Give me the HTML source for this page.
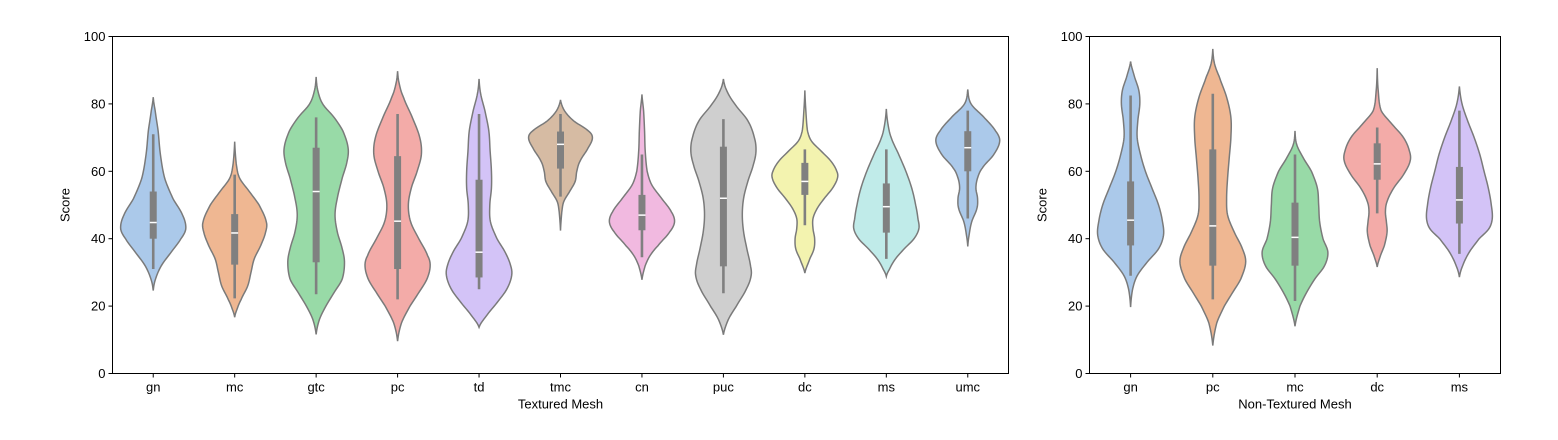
<!DOCTYPE html>
<html><head><meta charset="utf-8">
<style>
body{margin:0;background:#fff;}
svg{display:block;font-family:"Liberation Sans","DejaVu Sans",sans-serif;}
</style></head>
<body>
<svg id="chart" width="1558" height="440" viewBox="0 0 1558 440"></svg>
<script>
// ---------- Data ----------
const leftCategories = ["gn","mc","gtc","pc","td","tmc","cn","puc","dc","ms","umc"];
const rightCategories = ["gn","pc","mc","dc","ms"];
const leftColors = ["#a1c9f4","#ffb482","#8de5a1","#ff9f9b","#d0bbff","#debb9b","#fab0e4","#cfcfcf","#fffea3","#b9f2f0","#a1c9f4"];
const rightColors = ["#a1c9f4","#ffb482","#8de5a1","#ff9f9b","#d0bbff"];
// density profiles: [score, relative half-width]
const leftProfiles = [
 [[82,0],[78,0.06],[72,0.15],[65,0.22],[58,0.35],[52,0.6],[47,0.9],[43,1.0],[40,0.85],[36,0.55],[32,0.25],[28,0.07],[24.6,0]],
 [[68.8,0],[62,0.05],[58,0.15],[54,0.45],[50,0.75],[45,0.97],[42,0.95],[38,0.8],[34,0.6],[30,0.5],[26,0.4],[22,0.2],[19,0.07],[16.7,0]],
 [[88,0],[84,0.05],[80,0.2],[76,0.55],[72,0.82],[67,0.98],[63,0.95],[58,0.8],[52,0.65],[47,0.58],[42,0.65],[37,0.8],[33,0.87],[28,0.8],[24,0.55],[20,0.3],[16,0.1],[11.6,0]],
 [[89.7,0],[86,0.05],[82,0.18],[76,0.45],[70,0.68],[65,0.73],[60,0.6],[55,0.42],[50,0.33],[45,0.4],[40,0.65],[35,0.92],[32,1.0],[28,0.9],[24,0.65],[20,0.38],[15,0.12],[9.6,0]],
 [[87.4,0],[83,0.05],[78,0.18],[72,0.3],[66,0.34],[60,0.38],[55,0.38],[50,0.33],[45,0.35],[40,0.55],[36,0.8],[32,0.97],[29,1.0],[25,0.85],[21,0.55],[17,0.22],[13.7,0]],
 [[81.2,0],[78,0.12],[75,0.4],[72,0.85],[70,0.98],[67,0.85],[63,0.6],[60,0.5],[57,0.45],[54,0.28],[51,0.1],[48,0.04],[42.4,0]],
 [[82.8,0],[78,0.05],[72,0.08],[66,0.1],[60,0.16],[56,0.3],[52,0.6],[48,0.9],[45,1.0],[42,0.85],[38,0.5],[35,0.25],[32,0.1],[27.8,0]],
 [[87.4,0],[84,0.1],[80,0.35],[75,0.75],[70,0.95],[66,1.0],[62,0.92],[57,0.75],[52,0.62],[47,0.58],[42,0.62],[37,0.72],[32,0.83],[29,0.85],[25,0.7],[20,0.4],[16,0.15],[11.5,0]],
 [[84,0],[78,0.03],[72,0.08],[69,0.2],[66,0.5],[63,0.8],[60,0.98],[58,1.0],[55,0.85],[52,0.6],[49,0.38],[46,0.25],[43,0.25],[40,0.3],[37,0.28],[34,0.15],[29.8,0]],
 [[78.5,0],[74,0.05],[70,0.15],[65,0.38],[60,0.6],[55,0.78],[50,0.9],[46,0.97],[43,1.0],[40,0.85],[37,0.55],[34,0.28],[31,0.1],[28.8,0]],
 [[84.3,0],[80,0.1],[76,0.5],[72,0.85],[69,0.98],[65,0.8],[61,0.45],[58,0.3],[55,0.25],[52,0.3],[49,0.28],[45,0.12],[41,0.04],[37.7,0]]
];
const rightProfiles = [
 [[92.6,0],[88,0.12],[84,0.25],[80,0.28],[75,0.22],[70,0.2],[65,0.3],[60,0.45],[55,0.65],[50,0.85],[45,0.97],[41,1.0],[37,0.85],[33,0.5],[29,0.2],[25,0.06],[19.7,0]],
 [[96.3,0],[92,0.05],[88,0.2],[82,0.42],[76,0.55],[70,0.55],[64,0.5],[58,0.45],[52,0.42],[47,0.45],[42,0.65],[37,0.9],[33,1.0],[28,0.85],[24,0.6],[20,0.35],[15,0.12],[8.3,0]],
 [[72,0],[68,0.05],[64,0.25],[60,0.5],[55,0.68],[50,0.72],[45,0.75],[40,0.85],[36,1.0],[32,0.9],[28,0.6],[24,0.35],[20,0.15],[14,0]],
 [[90.6,0],[84,0.03],[78,0.12],[74,0.45],[70,0.8],[66,0.98],[63,1.0],[59,0.8],[55,0.5],[51,0.3],[48,0.25],[45,0.28],[42,0.3],[38,0.22],[35,0.1],[31.6,0]],
 [[85.2,0],[80,0.08],[75,0.25],[70,0.45],[65,0.62],[60,0.75],[55,0.88],[50,0.97],[46,1.0],[43,0.9],[40,0.6],[36,0.3],[32,0.1],[28.6,0]]
];
// box stats: [whiskerLow, q1, median, q3, whiskerHigh]
const leftBoxes = [[31,40,44.8,54,71],[22.3,32.3,41.7,47.3,59],[23.5,33,54,67,76],[22,31,45.2,64.5,77],[25,28.5,36,57.5,77],[52.5,60.8,68,71.8,77],[34.5,42.5,47,53,65],[23.8,31.8,52,67.3,75.5],[44,53,57,62.5,66.5],[34,41.8,49.5,56.4,66.5],[46,60,67,71.9,78]];
const rightBoxes = [[29,38,45.5,57,82.5],[22,32,43.8,66.5,83],[21.5,32,40.4,50.7,65],[47.5,57.5,62.2,68.3,73],[35.5,44.5,51.5,61.3,78]];
const yTicks = [0,20,40,60,80,100];

// ---------- Drawing ----------
const NS="http://www.w3.org/2000/svg";
const svg=document.getElementById('chart');
function mk(tag,attrs,parent){const e=document.createElementNS(NS,tag);for(const k in attrs)e.setAttribute(k,attrs[k]);(parent||svg).appendChild(e);return e;}

function desat(hex,f){
  let r=parseInt(hex.slice(1,3),16)/255,g=parseInt(hex.slice(3,5),16)/255,b=parseInt(hex.slice(5,7),16)/255;
  const mx=Math.max(r,g,b),mn=Math.min(r,g,b),l=(mx+mn)/2;
  return 'rgb('+[r,g,b].map(c=>Math.round((l+(c-l)*f)*255)).join(',')+')';
}

function interp(profile,v){
  const p=profile;
  for(let i=0;i<p.length-1;i++){
    const a=p[i],b=p[i+1];
    if(v<=a[0]&&v>=b[0]){
      const t=(a[0]-v)/(a[0]-b[0]);
      const p0=p[Math.max(0,i-1)][1],p1=a[1],p2=b[1],p3=p[Math.min(p.length-1,i+2)][1];
      const t2=t*t,t3=t2*t;
      const r=0.5*((2*p1)+(-p0+p2)*t+(2*p0-5*p1+4*p2-p3)*t2+(-p0+3*p1-3*p2+p3)*t3);
      return Math.max(0,r);
    }
  }
  return 0;
}

function drawPanel(opt){
  const {x0,x1,y0,y1,cats,colors,profiles,boxes,xlabel,name}=opt;
  const g=mk('g',{});  
  const ys=v=>y1-(v/100)*(y1-y0);
  const step=(x1-x0)/cats.length;
  const xs=i=>x0+step*(i+0.5);
  const hw=step*0.4;
  yTicks.forEach(t=>{
    const y=ys(t);
    const l=mk('line',{x1:x0-4,x2:x0,y1:y,y2:y,stroke:'#000','stroke-width':1},g);
     
    const tx=mk('text',{x:x0-7,y:y+4.5,'text-anchor':'end','font-size':13,fill:'#000'},g);
    tx.textContent=t;
     
  });
  const yl=mk('text',{x:0,y:0,transform:`translate(${x0-43},${(y0+y1)/2}) rotate(-90)`,'text-anchor':'middle','font-size':13,fill:'#000'},g);
  yl.textContent='Score';
   
  cats.forEach((c,i)=>{
    const cx=xs(i), prof=profiles[i];
    const top=prof[0][0], bot=prof[prof.length-1][0];
    const right=[],left=[];
    const N=120;
    for(let k=0;k<=N;k++){
      const v=top-(top-bot)*k/N;
      const w=interp(prof,v)*hw;
      right.push([cx+w,ys(v)]); left.push([cx-w,ys(v)]);
    }
    const pts=right.concat(left.reverse()).map(p=>p[0].toFixed(2)+','+p[1].toFixed(2)).join(' ');
    const vio=mk('polygon',{points:pts,fill:desat(colors[i],0.75),stroke:'#7a7a7a','stroke-width':1.5},g);
     
    const b=boxes[i];
    const wh=mk('line',{x1:cx,x2:cx,y1:ys(b[0]),y2:ys(b[4]),stroke:'#808080','stroke-width':2.6},g);
     
    const bx=mk('rect',{x:cx-3.5,y:ys(b[3]),width:7,height:ys(b[1])-ys(b[3]),fill:'#808080'},g);
     
    const md=mk('line',{x1:cx-3.5,x2:cx+3.5,y1:ys(b[2]),y2:ys(b[2]),stroke:'#fff','stroke-width':1.5},g);
     
    const tk=mk('line',{x1:cx,x2:cx,y1:y1,y2:y1+4,stroke:'#000','stroke-width':1},g);
     
    const tl=mk('text',{x:cx,y:y1+18,'text-anchor':'middle','font-size':13,fill:'#000'},g);
    tl.textContent=c;
     
  });
  const fr=mk('rect',{x:x0,y:y0,width:x1-x0,height:y1-y0,fill:'none',stroke:'#000','stroke-width':1},g);
   
  const xl=mk('text',{x:(x0+x1)/2,y:y1+35,'text-anchor':'middle','font-size':13,fill:'#000'},g);
  xl.textContent=xlabel;
   
}
drawPanel({x0:112.5,x1:1008.5,y0:36.5,y1:373.5,cats:leftCategories,colors:leftColors,profiles:leftProfiles,boxes:leftBoxes,xlabel:'Textured Mesh',name:'textured-mesh-panel'});
drawPanel({x0:1089.5,x1:1500.5,y0:36.5,y1:373.5,cats:rightCategories,colors:rightColors,profiles:rightProfiles,boxes:rightBoxes,xlabel:'Non-Textured Mesh',name:'non-textured-mesh-panel'});
</script>
</body></html>
